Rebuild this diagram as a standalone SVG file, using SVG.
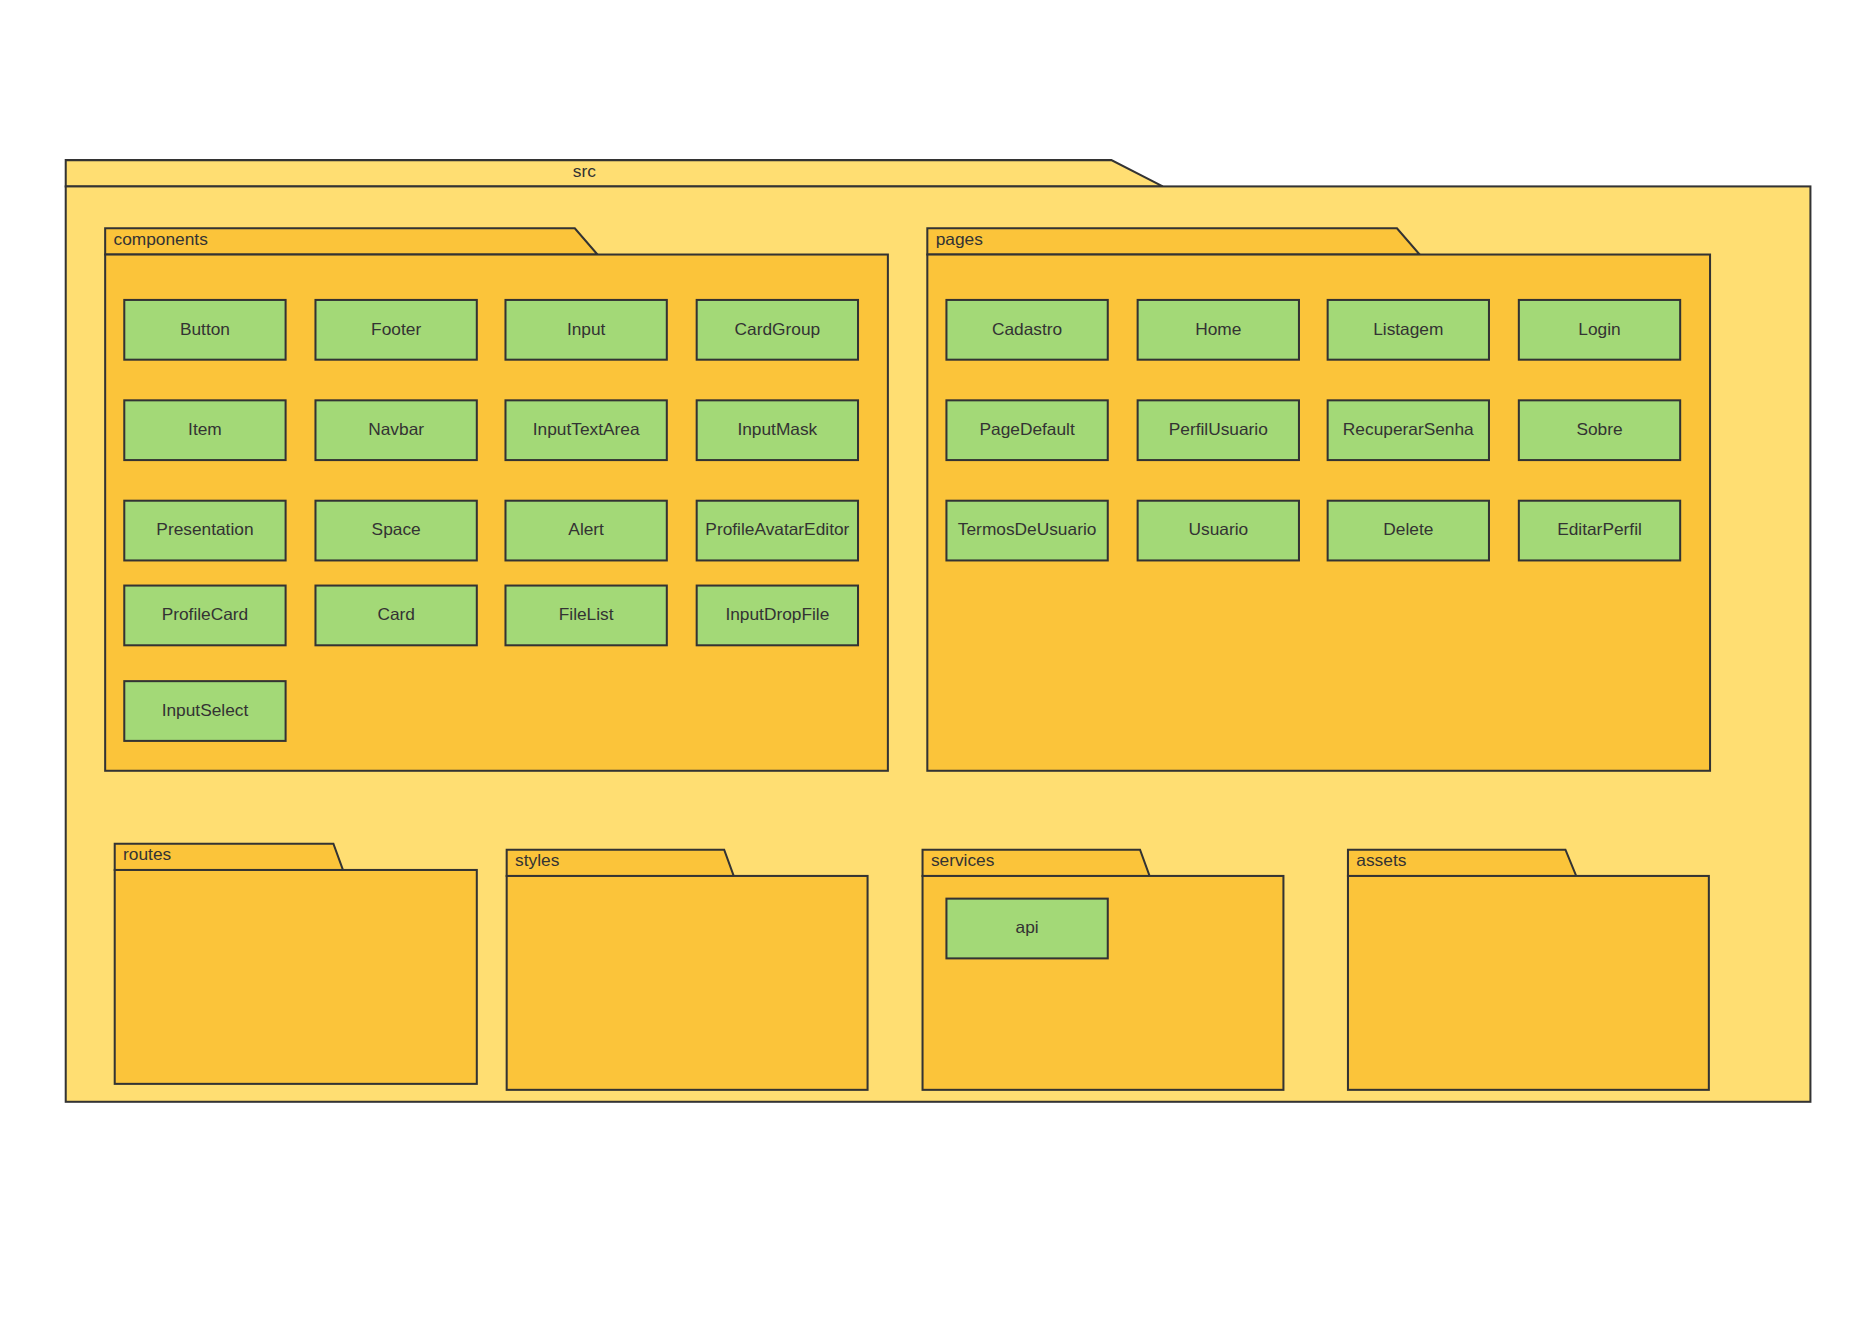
<svg xmlns="http://www.w3.org/2000/svg" width="1869" height="1320" viewBox="0 0 1869 1320">
<style>
.src{fill:#FFDE72;stroke:#333;stroke-width:1.7}
.fo{fill:#FBC43A;stroke:#333;stroke-width:1.7}
.n rect{fill:#A3D977;stroke:#333;stroke-width:1.7}
text{font-family:"Liberation Sans",Arial,sans-serif;font-size:14.5px;fill:#333}
.n text{text-anchor:middle}
</style>
<rect width="1869" height="1320" fill="#fff"/>
<g transform="scale(1.195)">
<g id="src"><path class="src" d="M55,134H930L973,156H55Z"/><rect class="src" x="55" y="156" width="1460" height="766"/><text x="489" y="148" text-anchor="middle">src</text></g>
<g id="components"><path class="fo" d="M88,191H481L500,213H88Z"/><rect class="fo" x="88" y="213" width="655" height="432"/><text x="95" y="205">components</text></g>
<g id="pages"><path class="fo" d="M776,191H1169L1188,213H776Z"/><rect class="fo" x="776" y="213" width="655" height="432"/><text x="783" y="205">pages</text></g>
<g id="routes"><path class="fo" d="M96,706H279L287,728H96Z"/><rect class="fo" x="96" y="728" width="303" height="179"/><text x="103" y="720">routes</text></g>
<g id="styles"><path class="fo" d="M424,711H606L614,733H424Z"/><rect class="fo" x="424" y="733" width="302" height="179"/><text x="431" y="725">styles</text></g>
<g id="services"><path class="fo" d="M772,711H954L962,733H772Z"/><rect class="fo" x="772" y="733" width="302" height="179"/><text x="779" y="725">services</text></g>
<g id="assets"><path class="fo" d="M1128,711H1310L1319,733H1128Z"/><rect class="fo" x="1128" y="733" width="302" height="179"/><text x="1135" y="725">assets</text></g>
<g id="Button" class="n"><rect x="104" y="251" width="135" height="50"/><text x="171.5" y="280">Button</text></g>
<g id="Footer" class="n"><rect x="264" y="251" width="135" height="50"/><text x="331.5" y="280">Footer</text></g>
<g id="Input" class="n"><rect x="423" y="251" width="135" height="50"/><text x="490.5" y="280">Input</text></g>
<g id="CardGroup" class="n"><rect x="583" y="251" width="135" height="50"/><text x="650.5" y="280">CardGroup</text></g>
<g id="Item" class="n"><rect x="104" y="335" width="135" height="50"/><text x="171.5" y="364">Item</text></g>
<g id="Navbar" class="n"><rect x="264" y="335" width="135" height="50"/><text x="331.5" y="364">Navbar</text></g>
<g id="InputTextArea" class="n"><rect x="423" y="335" width="135" height="50"/><text x="490.5" y="364">InputTextArea</text></g>
<g id="InputMask" class="n"><rect x="583" y="335" width="135" height="50"/><text x="650.5" y="364">InputMask</text></g>
<g id="Presentation" class="n"><rect x="104" y="419" width="135" height="50"/><text x="171.5" y="448">Presentation</text></g>
<g id="Space" class="n"><rect x="264" y="419" width="135" height="50"/><text x="331.5" y="448">Space</text></g>
<g id="Alert" class="n"><rect x="423" y="419" width="135" height="50"/><text x="490.5" y="448">Alert</text></g>
<g id="ProfileAvatarEditor" class="n"><rect x="583" y="419" width="135" height="50"/><text x="650.5" y="448">ProfileAvatarEditor</text></g>
<g id="ProfileCard" class="n"><rect x="104" y="490" width="135" height="50"/><text x="171.5" y="519">ProfileCard</text></g>
<g id="Card" class="n"><rect x="264" y="490" width="135" height="50"/><text x="331.5" y="519">Card</text></g>
<g id="FileList" class="n"><rect x="423" y="490" width="135" height="50"/><text x="490.5" y="519">FileList</text></g>
<g id="InputDropFile" class="n"><rect x="583" y="490" width="135" height="50"/><text x="650.5" y="519">InputDropFile</text></g>
<g id="InputSelect" class="n"><rect x="104" y="570" width="135" height="50"/><text x="171.5" y="599">InputSelect</text></g>
<g id="Cadastro" class="n"><rect x="792" y="251" width="135" height="50"/><text x="859.5" y="280">Cadastro</text></g>
<g id="Home" class="n"><rect x="952" y="251" width="135" height="50"/><text x="1019.5" y="280">Home</text></g>
<g id="Listagem" class="n"><rect x="1111" y="251" width="135" height="50"/><text x="1178.5" y="280">Listagem</text></g>
<g id="Login" class="n"><rect x="1271" y="251" width="135" height="50"/><text x="1338.5" y="280">Login</text></g>
<g id="PageDefault" class="n"><rect x="792" y="335" width="135" height="50"/><text x="859.5" y="364">PageDefault</text></g>
<g id="PerfilUsuario" class="n"><rect x="952" y="335" width="135" height="50"/><text x="1019.5" y="364">PerfilUsuario</text></g>
<g id="RecuperarSenha" class="n"><rect x="1111" y="335" width="135" height="50"/><text x="1178.5" y="364">RecuperarSenha</text></g>
<g id="Sobre" class="n"><rect x="1271" y="335" width="135" height="50"/><text x="1338.5" y="364">Sobre</text></g>
<g id="TermosDeUsuario" class="n"><rect x="792" y="419" width="135" height="50"/><text x="859.5" y="448">TermosDeUsuario</text></g>
<g id="Usuario" class="n"><rect x="952" y="419" width="135" height="50"/><text x="1019.5" y="448">Usuario</text></g>
<g id="Delete" class="n"><rect x="1111" y="419" width="135" height="50"/><text x="1178.5" y="448">Delete</text></g>
<g id="EditarPerfil" class="n"><rect x="1271" y="419" width="135" height="50"/><text x="1338.5" y="448">EditarPerfil</text></g>
<g id="api" class="n"><rect x="792" y="752" width="135" height="50"/><text x="859.5" y="781">api</text></g>
<g id="connectors"/>
</g>
</svg>
